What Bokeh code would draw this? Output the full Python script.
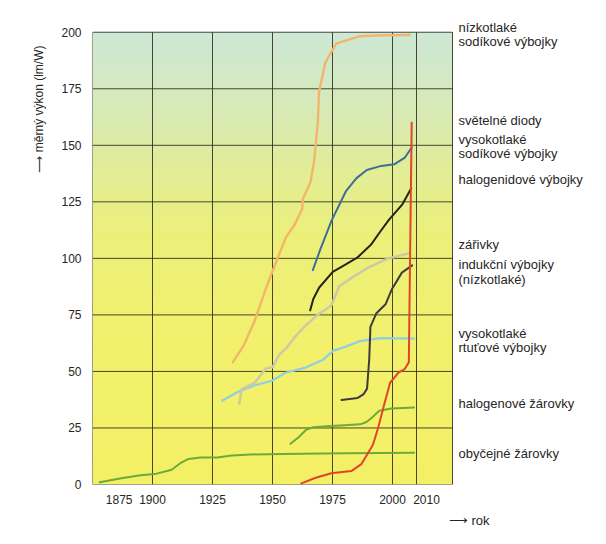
import numpy as np
from bokeh.plotting import figure
from bokeh.models import Range1d, FixedTicker, Label, Title, AllLabels
from bokeh.embed import file_html
from bokeh.resources import INLINE

# ---------------- data ----------------
x_ticks = [1875, 1900, 1925, 1950, 1975, 2000, 2010]
y_ticks = [0, 25, 50, 75, 100, 125, 150, 175, 200]

# obyčejné žárovky
inc_year = [1878, 1887, 1895, 1901, 1908, 1912, 1915, 1920, 1927, 1933, 1941, 1954, 1980, 2009]
inc_eff = [1, 2.8, 4.1, 4.6, 6.5, 9.7, 11.3, 11.9, 11.9, 12.8, 13.3, 13.5, 13.8, 14]

# halogenové žárovky
hal_year = [1957.5, 1961, 1964, 1967, 1974, 1980, 1986.5, 1989, 1991, 1994.5, 1999.5, 2009]
hal_eff = [18, 21, 24.2, 25.3, 25.9, 26.2, 26.6, 27.5, 29.2, 32.6, 33.6, 34]

# světelné diody
led_year = [1962, 1968, 1974.5, 1979, 1983, 1987, 1991.8, 1994, 1996.7, 1999, 2002.5, 2005, 2006.8, 2008]
led_eff = [0.5, 3, 5, 5.5, 6, 9, 17.5, 25, 36, 45, 49.5, 51, 54, 160]

# vysokotlaké sodíkové výbojky
hps_year = [1966.8, 1970, 1974.7, 1980.6, 1985, 1989.3, 1995.3, 2000.7, 2005, 2008]
hps_eff = [94.8, 104.2, 116.9, 129.7, 135.5, 139.1, 140.9, 141.6, 144.4, 149]

# halogenidové výbojky
mh_year = [1965.7, 1967, 1969.4, 1975.1, 1980, 1985.3, 1991, 1995, 1998.5, 2004.2, 2007.8]
mh_eff = [77, 82, 87, 94, 97, 100.3, 106, 112, 117, 124, 131]

# zářivky
fl_year = [1936.1, 1937.2, 1942.7, 1947.1, 1950.1, 1952.8, 1955.8, 1958.9, 1963.3, 1968.9,
           1974.5, 1977.8, 1983.3, 1990, 1997.8, 2006.7]
fl_eff = [35.7, 42.2, 45.1, 51.2, 52, 57.4, 60.4, 64.7, 69.8, 75.1,
          79.2, 87.7, 91.6, 96, 99.8, 102.2]

# indukční výbojky (nízkotlaké)
ind_year = [1978.75, 1985.5, 1988, 1989.4, 1990.3, 1990.8, 1993.2, 1997.1, 1999.8, 2003.9, 2008.2]
ind_eff = [37.4, 38.3, 40, 42.4, 55.4, 69.7, 75.6, 79.7, 86.5, 93.7, 96.9]

# vysokotlaké rtuťové výbojky
hg_year = [1929, 1935.5, 1942.7, 1949.8, 1955.4, 1963.8, 1971.1, 1975.4, 1980.9, 1986.4, 1994.8, 2009]
hg_eff = [37, 40.9, 43.9, 45.9, 49.4, 51.7, 55.2, 59.2, 61.1, 63.4, 64.7, 64.5]

# nízkotlaké sodíkové výbojky
lps_year = [1933.5, 1937.9, 1942.5, 1947.3, 1951.9, 1955.6, 1959.2, 1962.4, 1962.6, 1965.8,
            1967.4, 1968.9, 1969.4, 1972, 1976.5, 1986.2, 1994.6, 2007.1]
lps_eff = [54.1, 61.3, 72.2, 86.8, 99.5, 109.3, 114.9, 121.9, 126.1, 133.5,
           143.4, 160.6, 173.6, 186.5, 195, 198.2, 198.6, 198.8]

label_lines = [
    ["nízkotlaké", "sodíkové výbojky"],
    ["světelné diody"],
    ["vysokotlaké", "sodíkové výbojky"],
    ["halogenidové výbojky"],
    ["zářivky"],
    ["indukční výbojky", "(nízkotlaké)"],
    ["vysokotlaké", "rtuťové výbojky"],
    ["halogenové žárovky"],
    ["obyčejné žárovky"],
]

y_title = "\u27f6 měrný výkon (lm/W)"
x_title = "\u27f6 rok"

# ---------------- styling / layout ----------------
FONT = "Liberation Sans"
TXT = "#262626"
GRID = "#34341f"
X0, X1 = 1875, 2025          # chart area (data)
Y0, Y1 = 0, 200
XMAX = 2082.5                # frame extends right for the lamp labels
YMAX = 210.5                 # and a little above for the top label

p = figure(width=590, height=528, x_range=Range1d(X0, XMAX), y_range=Range1d(Y0, YMAX),
           output_backend="svg", toolbar_location=None,
           min_border_left=92, min_border_right=0, min_border_top=8, min_border_bottom=40)
p.border_fill_color = "white"
p.background_fill_color = "white"
p.outline_line_color = None
p.grid.visible = False

# background gradient (mint green at top -> yellow at bottom) inside the chart area
ny = 232
vv = np.linspace(Y0, Y1, ny)
stop_v = [0, 60, 110, 140, 170, 200]
stop_rgb = np.array([[245, 240, 102], [243, 240, 108], [236, 240, 122],
                     [226, 237, 152], [214, 234, 188], [205, 232, 214]], dtype=float)
img = np.empty((ny, 1), dtype=np.uint32)
view = img.view(dtype=np.uint8).reshape((ny, 1, 4))
for k in range(3):
    view[:, 0, k] = np.interp(vv, stop_v, stop_rgb[:, k]).astype(np.uint8)
view[:, 0, 3] = 255
p.image_rgba(image=[img], x=X0, y=Y0, dw=X1 - X0, dh=Y1 - Y0, level="image")

# grid + frame of the chart area, bounded to the chart area
gx = x_ticks + [X1]
p.segment(x0=gx, y0=[Y0] * len(gx), x1=gx, y1=[Y1] * len(gx),
          line_color=GRID, line_alpha=0.9, line_width=1, level="underlay")
p.segment(x0=[X0] * len(y_ticks), y0=y_ticks, x1=[X1] * len(y_ticks), y1=y_ticks,
          line_color=GRID, line_alpha=0.9, line_width=1, level="underlay")

# axes
p.xaxis.ticker = FixedTicker(ticks=x_ticks)
p.yaxis.ticker = FixedTicker(ticks=y_ticks)
p.xaxis.major_label_overrides = {x_ticks[0]: "\u2007" * 8 + str(x_ticks[0]),
                                 x_ticks[-1]: "\u2007" * 3 + str(x_ticks[-1])}
p.xaxis.major_label_policy = AllLabels()
for ax in (p.xaxis, p.yaxis):
    ax.axis_line_color = None
    ax.major_tick_line_color = None
    ax.minor_tick_line_color = None
    ax.major_tick_out = 0
    ax.major_tick_in = 0
    ax.major_label_text_font = FONT
    ax.major_label_text_font_size = "12px"
    ax.major_label_text_color = TXT
p.xaxis.major_label_standoff = 8
p.yaxis.major_label_standoff = 11

# axis titles
p.add_layout(Title(text=y_title, align="right", offset=37, standoff=25,
                   text_font=FONT, text_font_size="12px", text_font_style="normal",
                   text_color=TXT), "left")
p.add_layout(Title(text=x_title, align="right", offset=101, standoff=2,
                   text_font=FONT, text_font_size="13px", text_font_style="normal",
                   text_color=TXT), "below")

# curves
curves = [
    (inc_year, inc_eff, "#6aab3c", 2),
    (hal_year, hal_eff, "#6aab3c", 2),
    (hg_year, hg_eff, "#8fcfe0", 2.2),
    (fl_year, fl_eff, "#cdc8a6", 2.5),
    (lps_year, lps_eff, "#f2b56b", 2.4),
    (hps_year, hps_eff, "#3d6f96", 2),
    (mh_year, mh_eff, "#24241a", 2),
    (ind_year, ind_eff, "#3c3c3c", 2),
    (led_year, led_eff, "#e0452a", 2),
]
for xs, ys, c, w in curves:
    p.line(xs, ys, line_color=c, line_width=w, line_cap="round", line_join="round")

# right-hand labels (value position of each block's first line)
label_pos = [202.3, 161, 152.6, 134.8, 106.2, 97.1, 66.8, 35.7, 13.6]
line_step = 6.3
for lines, yv in zip(label_lines, label_pos):
    for i, s in enumerate(lines):
        p.add_layout(Label(x=X1, y=yv - i * line_step, x_offset=6, text=s, text_align="left",
                           text_baseline="middle", text_font=FONT, text_font_size="13px",
                           text_color=TXT))

open("out.html", "w").write(file_html(p, INLINE))
